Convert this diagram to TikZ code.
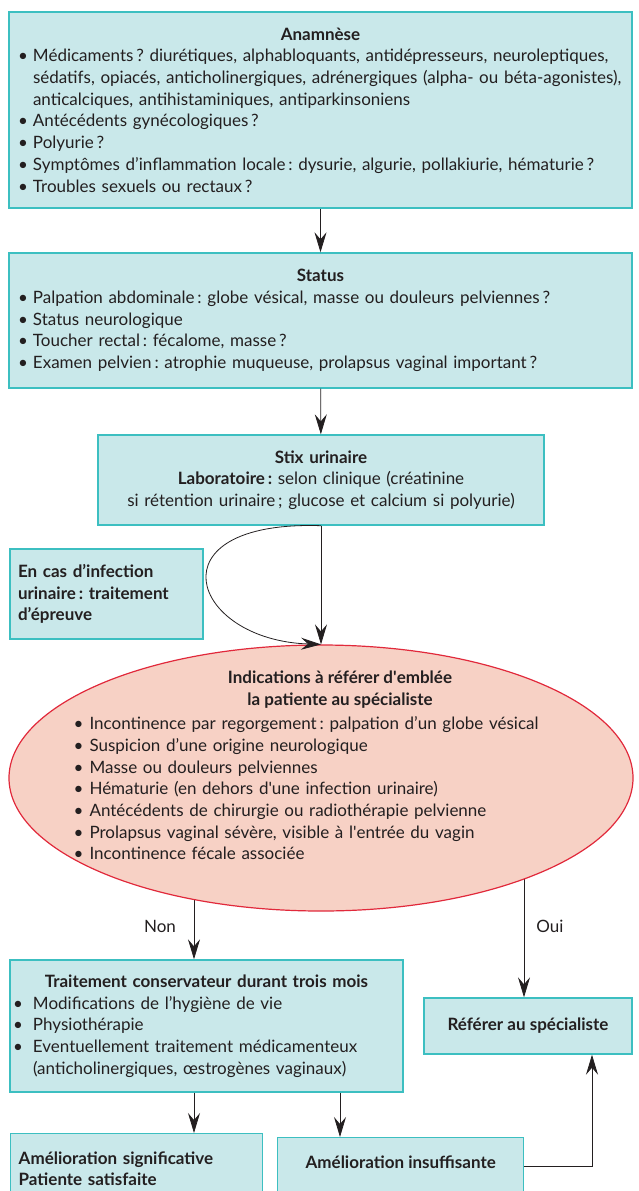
\documentclass[tikz,border=0pt]{standalone}
\usepackage{fontspec}
\setmainfont{Lato}
\usetikzlibrary{shapes.geometric,arrows.meta,positioning,backgrounds}

\definecolor{boitefond}{HTML}{C9E8EA}
\definecolor{boitebord}{HTML}{3CBFC1}
\definecolor{ellfond}{HTML}{F7D1C5}
\definecolor{ellbord}{HTML}{E1293B}
\definecolor{encre}{HTML}{231F20}

% one bullet line with hanging indent
\newcommand{\puce}[1][15pt]{\par\hangindent=#1\hangafter=1\noindent\makebox[#1][l]{\textbullet}\ignorespaces}

\begin{document}
\frenchspacing
\begin{tikzpicture}[x=1pt,y=-1pt,
    boite/.style={draw=boitebord, fill=boitefond, line width=1.4pt, inner xsep=9pt, inner ysep=0pt,
        text=encre, align=left, font=\fontsize{17}{21.7}\selectfont},
    titre/.style={font=\fontsize{17}{21.7}\selectfont\bfseries},
    fleche/.style={-{Stealth[length=20pt,width=12pt,inset=7pt]}, draw=encre, line width=0.8pt},
    etiq/.style={text=encre, font=\fontsize{17}{21.7}\selectfont}]

    \useasboundingbox (0,0) rectangle (639,1191);
    \clip (0,0) rectangle (639,1191);

    % x positions of the vertical connectors
    \coordinate (xnon) at (194,0);
    \coordinate (xins) at (340,0);
    \coordinate (xoui) at (524,0);
    \coordinate (xret) at (592,0);

    % Anamnese
    \node[boite, text width=605pt, minimum height=196pt] (anam) at (320.5,110) {%
        {\centering\bfseries Anamnèse\par}
        \puce Médicaments\,? diurétiques, alphabloquants, antidépresseurs, neuroleptiques,\newline
        sédatifs, opiacés, anticholinergiques, adrénergiques (alpha- ou béta-agonistes),\newline
        anticalciques, antihistaminiques, antiparkinsoniens
        \puce Antécédents gynécologiques\,?
        \puce Polyurie\,?
        \puce Symptômes d’inflammation locale\,: dysurie, algurie, pollakiurie, hématurie\,?
        \puce Troubles sexuels ou rectaux\,?\par};

    % Status
    \node[boite, text width=605pt, minimum height=135pt] (stat) at (320.5,320.5) {%
        {\centering\bfseries Status\par}
        \puce Palpation abdominale\,: globe vésical, masse ou douleurs pelviennes\,?
        \puce Status neurologique
        \puce Toucher rectal\,: fécalome, masse\,?
        \puce Examen pelvien\,: atrophie muqueuse, prolapsus vaginal important\,?\par};

    % Stix urinaire
    \node[boite, align=center, text width=428pt, minimum height=90pt] (stix) at (321,480) {%
        {\bfseries Stix urinaire}\\
        {\bfseries Laboratoire\,:} selon clinique (créatinine\\
        si rétention urinaire\,; glucose et calcium si polyurie)};

    % infection urinaire
    \node[boite, inner xsep=8pt, text width=177pt, minimum height=90pt, font=\fontsize{17}{21.7}\selectfont\bfseries] (infec) at (106.5,594) {%
        En cas d’infection\\ urinaire\,: traitement\\ d’épreuve};

    % Indications (ellipse)
    \node[ellipse, draw=ellbord, fill=ellfond, line width=1.2pt, inner sep=0pt,
        minimum width=624pt, minimum height=266pt] (ind) at (321,778) {};
    \node[titre, text=encre, align=center] (indtitre) at (340,689.5) {%
        Indications à référer d\textquotesingle emblée\\ la patiente au spécialiste};
    \node[etiq, anchor=west, text width=490pt, align=left] (indliste) at (70,784) {%
        \puce[16pt] Incontinence par regorgement\,: palpation d’un globe vésical
        \puce[16pt] Suspicion d’une origine neurologique
        \puce[16pt] Masse ou douleurs pelviennes
        \puce[16pt] Hématurie (en dehors d\textquotesingle une infection urinaire)
        \puce[16pt] Antécédents de chirurgie ou radiothérapie pelvienne
        \puce[16pt] Prolapsus vaginal sévère, visible à l\textquotesingle entrée du vagin
        \puce[16pt] Incontinence fécale associée\par};

    % Traitement conservateur
    \node[boite, inner xsep=3pt, text width=387pt, minimum height=132pt] (trait) at (206.5,1026) {%
        {\centering\bfseries Traitement conservateur durant trois mois\par}
        \puce[20pt] Modifications de l’hygiène de vie
        \puce[20pt] Physiothérapie
        \puce[20pt] Eventuellement traitement médicamenteux\newline
        (anticholinergiques, œstrogènes vaginaux)\par};

    % Referer
    \node[boite, align=center, minimum width=208pt, minimum height=56pt, font=\fontsize{17}{21.7}\selectfont\bfseries] (ref) at (528,1026) {Référer au spécialiste};

    % bottom boxes
    \node[boite, anchor=north west, inner xsep=8pt, text width=236pt, minimum height=70pt,
        font=\fontsize{17}{21.7}\selectfont\bfseries] (satis) at (10,1133) {%
        Amélioration significative\\ Patiente satisfaite};
    \node[boite, anchor=north west, align=center, minimum width=246pt, inner ysep=7pt,
        text height=24pt, text depth=30pt, font=\fontsize{17}{21.7}\selectfont\bfseries] (insuf) at (277,1137) {%
        Amélioration insuffisante};

    % connectors
    \draw[fleche] (anam) -- (stat);
    \draw[fleche] (stat) -- (stix);
    \draw[fleche] (stix.south) -- (ind.north);
    \draw[fleche] (stix.south) .. controls (150,520) and (190,640) .. (ind.north);
    \begin{scope}[on background layer]
        \draw[fleche] (xnon |- ind.center) -- (xnon |- trait.north);
        \draw[fleche] (xoui |- ind.center) -- (xoui |- ref.north);
    \end{scope}
    \draw[fleche] (xnon |- trait.south) -- (xnon |- satis.north);
    \draw[fleche] (xins |- trait.south) -- (xins |- insuf.north);
    \draw[fleche] (insuf.mid east) -| (xret |- ref.south);

    % labels
    \node[etiq] (non) at (160,926) {Non};
    \node[etiq] (oui) at (550,926) {Oui};

\end{tikzpicture}
\end{document}
